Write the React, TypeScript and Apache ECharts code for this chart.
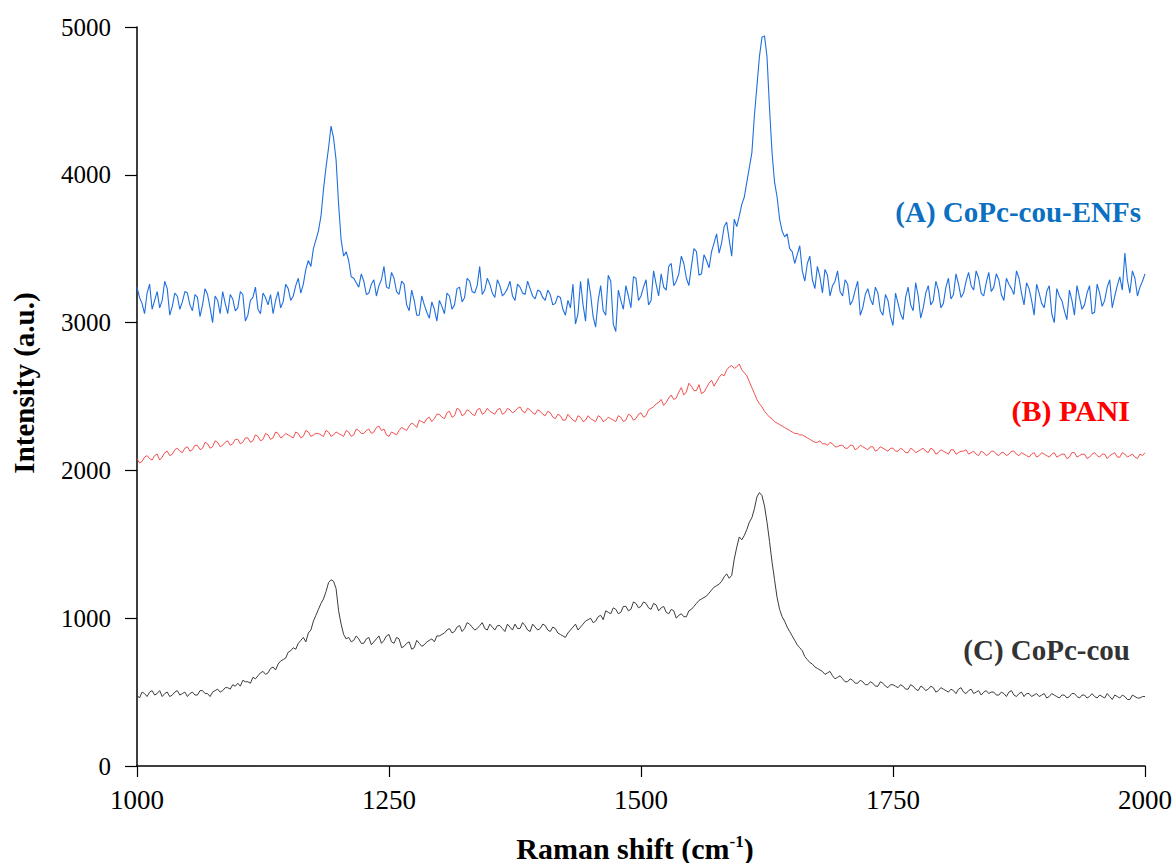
import React, { useEffect, useRef } from "react";
import * as echarts from "echarts";

// Raman shift grid: main points 1000..2000 step 5, mid points at +2.5
const X_START = 1000;
const X_STEP = 5;

// (A) CoPc-cou-ENFs intensities at 1000, 1005, ... (rows of 50 cm-1)
const seriesA: number[] = [
  3240, 3130, 3200, 3090, 3210, 3150, 3230, 3110, 3180, 3140, // 1000
  3200, 3080, 3170, 3120, 3190, 3000, 3150, 3210, 3060, 3160, // 1050
  3100, 3190, 3050, 3170, 3090, 3200, 3120, 3060, 3210, 3140, // 1100
  3230, 3180, 3300, 3260, 3420, 3500, 3620, 3900, 4180, 4250, // 1150
  3800, 3450, 3420, 3300, 3240, 3280, 3200, 3290, 3250, 3380, // 1200
  3230, 3300, 3190, 3260, 3080, 3150, 3050, 3120, 3030, 3090, // 1250
  3150, 3060, 3180, 3120, 3240, 3170, 3280, 3200, 3380, 3220, // 1300
  3260, 3170, 3250, 3200, 3280, 3150, 3240, 3190, 3230, 3160, // 1350
  3210, 3150, 3190, 3130, 3170, 3050, 3100, 2990, 3280, 3010, // 1400
  3190, 2970, 3250, 3050, 3280, 2940, 3150, 3250, 3100, 3300, // 1450
  3180, 3290, 3150, 3260, 3330, 3220, 3400, 3280, 3450, 3300, // 1500
  3380, 3480, 3330, 3420, 3480, 3600, 3540, 3680, 3450, 3650, // 1550
  3800, 3950, 4150, 4600, 4930, 4800, 4150, 3850, 3620, 3600, // 1600
  3480, 3460, 3350, 3400, 3290, 3380, 3200, 3320, 3250, 3350, // 1650
  3180, 3260, 3150, 3280, 3100, 3230, 3120, 3200, 3050, 3150, // 1700
  2980, 3130, 3020, 3240, 3080, 3180, 3100, 3250, 3150, 3220, // 1750
  3130, 3300, 3190, 3260, 3200, 3340, 3220, 3300, 3180, 3340, // 1800
  3240, 3290, 3150, 3260, 3190, 3300, 3120, 3230, 3050, 3200, // 1850
  3100, 3250, 3000, 3180, 3080, 3220, 3050, 3170, 3120, 3250, // 1900
  3070, 3200, 3150, 3290, 3180, 3310, 3470, 3200, 3300, 3240, // 1950
  3330, // 2000
];
// (A) at 1002.5, 1007.5, ...
const seriesAMid: number[] = [
  3170, 3060, 3260, 3150, 3100, 3280, 3050, 3200, 3090, 3210, // 1000
  3120, 3190, 3040, 3230, 3100, 3180, 3060, 3130, 3190, 3080, // 1050
  3210, 3010, 3150, 3240, 3060, 3170, 3190, 3150, 3100, 3260, // 1100
  3150, 3250, 3200, 3360, 3380, 3560, 3720, 4050, 4330, 4100, // 1150
  3560, 3480, 3310, 3270, 3330, 3190, 3260, 3180, 3290, 3240, // 1200
  3340, 3210, 3280, 3120, 3220, 3050, 3180, 3070, 3140, 3010, // 1250
  3110, 3200, 3090, 3230, 3140, 3300, 3210, 3250, 3190, 3300, // 1300
  3200, 3290, 3180, 3230, 3180, 3260, 3200, 3280, 3180, 3220, // 1350
  3170, 3220, 3120, 3180, 3090, 3150, 3260, 3060, 3120, 3300, // 1400
  3040, 3150, 3080, 3320, 2990, 3220, 3090, 3180, 3310, 3150, // 1450
  3240, 3120, 3350, 3180, 3240, 3380, 3250, 3330, 3400, 3250, // 1500
  3500, 3320, 3460, 3370, 3540, 3470, 3650, 3560, 3700, 3720, // 1550
  3850, 4050, 4400, 4800, 4940, 4450, 3950, 3700, 3580, 3500, // 1600
  3400, 3520, 3280, 3450, 3230, 3310, 3360, 3180, 3280, 3210, // 1650
  3290, 3120, 3220, 3050, 3190, 3160, 3240, 3080, 3190, 3040, // 1700
  3200, 3060, 3170, 3120, 3270, 3030, 3200, 3120, 3280, 3100, // 1750
  3240, 3160, 3330, 3170, 3280, 3250, 3350, 3200, 3270, 3210, // 1800
  3330, 3190, 3300, 3230, 3350, 3200, 3270, 3150, 3260, 3130, // 1850
  3210, 3060, 3230, 3150, 3020, 3150, 3250, 3090, 3200, 3060, // 1900
  3260, 3110, 3240, 3100, 3250, 3220, 3290, 3350, 3180, 3280, // 1950
];

// (B) PANI intensities
const seriesB: number[] = [
  2080, 2060, 2100, 2070, 2110, 2090, 2130, 2110, 2150, 2120, // 1000
  2160, 2140, 2170, 2150, 2180, 2160, 2190, 2170, 2200, 2180, // 1050
  2210, 2190, 2220, 2200, 2230, 2210, 2240, 2220, 2250, 2230, // 1100
  2240, 2220, 2250, 2230, 2260, 2240, 2250, 2230, 2260, 2240, // 1150
  2250, 2230, 2260, 2240, 2270, 2250, 2280, 2260, 2300, 2280, // 1200
  2230, 2250, 2270, 2280, 2300, 2310, 2340, 2320, 2360, 2350, // 1250
  2380, 2350, 2400, 2370, 2410, 2380, 2400, 2370, 2420, 2390, // 1300
  2400, 2380, 2420, 2390, 2410, 2400, 2430, 2390, 2410, 2380, // 1350
  2400, 2370, 2390, 2350, 2370, 2340, 2360, 2330, 2360, 2340, // 1400
  2350, 2330, 2360, 2340, 2350, 2330, 2360, 2340, 2370, 2350, // 1450
  2390, 2370, 2420, 2450, 2480, 2460, 2510, 2490, 2560, 2530, // 1500
  2570, 2540, 2520, 2560, 2610, 2600, 2650, 2680, 2710, 2700, // 1550
  2680, 2640, 2560, 2480, 2430, 2380, 2350, 2320, 2300, 2280, // 1600
  2260, 2250, 2240, 2220, 2200, 2190, 2180, 2170, 2180, 2160, // 1650
  2170, 2150, 2170, 2150, 2160, 2140, 2160, 2140, 2150, 2130, // 1700
  2150, 2130, 2140, 2120, 2140, 2130, 2150, 2120, 2140, 2120, // 1750
  2130, 2110, 2140, 2120, 2130, 2110, 2130, 2100, 2120, 2110, // 1800
  2130, 2100, 2120, 2110, 2130, 2100, 2110, 2090, 2120, 2100, // 1850
  2110, 2090, 2120, 2100, 2110, 2090, 2120, 2100, 2110, 2090, // 1900
  2120, 2090, 2110, 2100, 2120, 2090, 2110, 2100, 2090, 2110, // 1950
  2120, // 2000
];
const seriesBMid: number[] = [
  2050, 2090, 2080, 2100, 2070, 2120, 2100, 2140, 2130, 2150, // 1000
  2130, 2170, 2140, 2190, 2150, 2200, 2160, 2190, 2170, 2210, // 1050
  2180, 2220, 2190, 2240, 2200, 2250, 2210, 2260, 2220, 2250, // 1100
  2230, 2260, 2220, 2270, 2230, 2250, 2240, 2270, 2230, 2260, // 1150
  2240, 2270, 2230, 2280, 2250, 2270, 2250, 2290, 2270, 2240, // 1200
  2260, 2240, 2290, 2270, 2320, 2290, 2330, 2350, 2330, 2380, // 1250
  2360, 2390, 2360, 2420, 2370, 2410, 2380, 2410, 2380, 2420, // 1300
  2390, 2410, 2380, 2420, 2390, 2420, 2400, 2420, 2390, 2410, // 1350
  2380, 2400, 2360, 2380, 2340, 2380, 2340, 2370, 2330, 2370, // 1400
  2340, 2370, 2330, 2360, 2340, 2370, 2330, 2380, 2340, 2380, // 1450
  2360, 2410, 2430, 2460, 2440, 2490, 2480, 2530, 2510, 2590, // 1500
  2540, 2580, 2530, 2590, 2570, 2630, 2640, 2700, 2690, 2720, // 1550
  2660, 2600, 2520, 2450, 2400, 2360, 2330, 2310, 2290, 2270, // 1600
  2250, 2240, 2230, 2210, 2190, 2200, 2180, 2190, 2160, 2170, // 1650
  2150, 2170, 2140, 2170, 2150, 2160, 2130, 2160, 2140, 2150, // 1700
  2130, 2150, 2120, 2150, 2120, 2140, 2130, 2150, 2110, 2140, // 1750
  2120, 2140, 2110, 2130, 2140, 2120, 2110, 2130, 2100, 2130, // 1800
  2110, 2120, 2100, 2130, 2110, 2120, 2100, 2110, 2090, 2120, // 1850
  2100, 2110, 2090, 2110, 2080, 2120, 2090, 2110, 2080, 2110, // 1900
  2100, 2110, 2080, 2110, 2090, 2120, 2090, 2110, 2080, 2100, // 1950
];

// (C) CoPc-cou intensities
const seriesC: number[] = [
  480, 500, 470, 510, 490, 470, 500, 480, 510, 490, // 1000
  470, 500, 480, 510, 490, 500, 520, 510, 530, 550, // 1050
  560, 580, 570, 600, 610, 640, 630, 670, 690, 720, // 1100
  770, 800, 830, 870, 900, 980, 1060, 1130, 1240, 1250, // 1150
  1050, 890, 870, 850, 860, 830, 870, 840, 880, 850, // 1200
  890, 830, 860, 810, 840, 800, 830, 820, 850, 840, // 1250
  880, 900, 930, 910, 950, 930, 960, 920, 950, 930, // 1300
  960, 920, 950, 910, 940, 960, 930, 950, 910, 940, // 1350
  930, 950, 910, 930, 890, 870, 920, 960, 940, 980, // 1400
  1000, 980, 1020, 1050, 1030, 1060, 1040, 1080, 1060, 1100, // 1450
  1080, 1100, 1060, 1090, 1070, 1040, 1060, 1000, 1030, 1010, // 1500
  1060, 1100, 1130, 1150, 1190, 1220, 1250, 1300, 1290, 1480, // 1550
  1530, 1600, 1680, 1820, 1830, 1650, 1380, 1140, 1010, 940, // 1600
  880, 820, 780, 720, 690, 660, 640, 630, 610, 600, // 1650
  590, 570, 580, 560, 570, 550, 560, 540, 560, 530, // 1700
  550, 530, 540, 520, 540, 510, 530, 520, 530, 510, // 1750
  520, 500, 510, 520, 500, 510, 490, 510, 500, 490, // 1800
  500, 480, 490, 500, 480, 490, 470, 490, 480, 470, // 1850
  490, 470, 480, 460, 480, 470, 490, 460, 480, 470, // 1900
  470, 480, 460, 470, 480, 460, 470, 450, 470, 460, // 1950
  470, // 2000
];
const seriesCMid: number[] = [
  460, 490, 500, 480, 510, 490, 470, 500, 480, 500, // 1000
  490, 480, 510, 490, 470, 510, 500, 530, 520, 540, // 1050
  540, 570, 560, 590, 630, 620, 660, 650, 710, 730, // 1100
  780, 790, 850, 840, 920, 1020, 1100, 1180, 1260, 1200, // 1150
  960, 860, 840, 880, 830, 860, 820, 860, 830, 880, // 1200
  840, 870, 800, 830, 790, 850, 810, 840, 860, 880, // 1250
  890, 920, 900, 940, 910, 970, 940, 930, 970, 920, // 1300
  940, 950, 930, 960, 920, 930, 970, 920, 960, 920, // 1350
  960, 920, 940, 900, 880, 900, 940, 920, 960, 990, // 1400
  970, 1010, 990, 1040, 1070, 1030, 1080, 1050, 1110, 1070, // 1450
  1110, 1070, 1100, 1050, 1080, 1030, 1050, 1020, 1010, 1050, // 1500
  1080, 1120, 1140, 1170, 1210, 1230, 1280, 1270, 1400, 1550, // 1550
  1560, 1650, 1740, 1850, 1760, 1520, 1260, 1060, 980, 910, // 1600
  850, 800, 740, 700, 670, 650, 620, 640, 590, 610, // 1650
  570, 590, 560, 580, 550, 570, 540, 570, 540, 550, // 1700
  540, 550, 520, 550, 520, 540, 510, 540, 500, 530, // 1750
  510, 520, 490, 530, 490, 520, 500, 480, 510, 500, // 1800
  480, 500, 470, 510, 470, 500, 490, 470, 490, 480, // 1850
  460, 490, 470, 480, 460, 490, 470, 480, 460, 490, // 1900
  460, 470, 490, 450, 470, 480, 450, 480, 460, 470, // 1950
];

const seriesNames = ["(A) CoPc-cou-ENFs", "(B) PANI", "(C) CoPc-cou"];
const xTicks = [1000, 1250, 1500, 1750, 2000];
const yTicks = [0, 1000, 2000, 3000, 4000, 5000];

const toPairs = (main: number[], mid: number[]) => {
  const out: number[][] = [];
  main.forEach((y, i) => {
    const x = X_START + i * X_STEP;
    out.push([x, y]);
    if (i < mid.length) out.push([x + X_STEP / 2, mid[i]]);
  });
  return out;
};

export default function App() {
  const ref = useRef<HTMLDivElement>(null);
  useEffect(() => {
    document.body.style.margin = "0";
    if (!ref.current) return;
    const chart = echarts.init(ref.current, null, { renderer: "svg" });
    const serif = "Liberation Serif";
    chart.setOption({
      animation: false,
      backgroundColor: "#ffffff",
      grid: { left: 137, right: 30, top: 27, bottom: 97, containLabel: false },
      xAxis: {
        type: "value",
        min: xTicks[0],
        max: xTicks[xTicks.length - 1],
        interval: 250,
        axisLine: { lineStyle: { color: "#000", width: 1.5 } },
        axisTick: { inside: false, length: 11, lineStyle: { color: "#000", width: 1.2 } },
        axisLabel: { color: "#000", fontFamily: serif, fontSize: 27, margin: 20, formatter: (v: number) => String(v) },
        splitLine: { show: false },
      },
      yAxis: {
        type: "value",
        min: yTicks[0],
        max: yTicks[yTicks.length - 1],
        interval: 1000,
        axisLine: { show: true, lineStyle: { color: "#000", width: 1.5 } },
        axisTick: { show: true, inside: false, length: 12, lineStyle: { color: "#000", width: 1.2 } },
        axisLabel: { color: "#000", fontFamily: serif, fontSize: 25, margin: 26, formatter: (v: number) => String(v) },
        splitLine: { show: false },
      },
      series: [
        {
          name: seriesNames[0],
          type: "line",
          data: toPairs(seriesA, seriesAMid),
          showSymbol: false,
          lineStyle: { color: "#1f6fde", width: 1.1 },
        },
        {
          name: seriesNames[1],
          type: "line",
          data: toPairs(seriesB, seriesBMid),
          showSymbol: false,
          lineStyle: { color: "#f03c3c", width: 0.9 },
        },
        {
          name: seriesNames[2],
          type: "line",
          data: toPairs(seriesC, seriesCMid),
          showSymbol: false,
          lineStyle: { color: "#3c3c3c", width: 1 },
        },
      ],
      graphic: [
        {
          type: "text",
          x: 1141,
          y: 212,
          style: {
            text: seriesNames[0],
            fill: "#0b6fc2",
            font: `bold 29px "${serif}"`,
            align: "right",
            verticalAlign: "middle",
          },
        },
        {
          type: "text",
          x: 1130,
          y: 410,
          style: {
            text: seriesNames[1],
            fill: "#ff0000",
            font: `bold 30px "${serif}"`,
            align: "right",
            verticalAlign: "middle",
          },
        },
        {
          type: "text",
          x: 1130,
          y: 650,
          style: {
            text: seriesNames[2],
            fill: "#333333",
            font: `bold 29px "${serif}"`,
            align: "right",
            verticalAlign: "middle",
          },
        },
        {
          type: "text",
          x: 24,
          y: 383,
          rotation: Math.PI / 2,
          style: {
            text: "Intensity (a.u.)",
            fill: "#000",
            font: `bold 29px "${serif}"`,
            align: "center",
            verticalAlign: "middle",
          },
        },
        {
          type: "text",
          x: 635,
          y: 848,
          style: {
            text: "{a|Raman shift (cm}{s|-1}{a|)}",
            align: "center",
            verticalAlign: "middle",
            rich: {
              a: { fontFamily: serif, fontWeight: "bold", fontSize: 30, fill: "#000", color: "#000" },
              s: { fontFamily: serif, fontWeight: "bold", fontSize: 17, fill: "#000", color: "#000", verticalAlign: "top", padding: [0, 0, 12, 0] },
            },
          },
        },
      ],
    });
    return () => chart.dispose();
  }, []);
  return <div ref={ref} style={{ width: 1175, height: 863 }} />;
}
